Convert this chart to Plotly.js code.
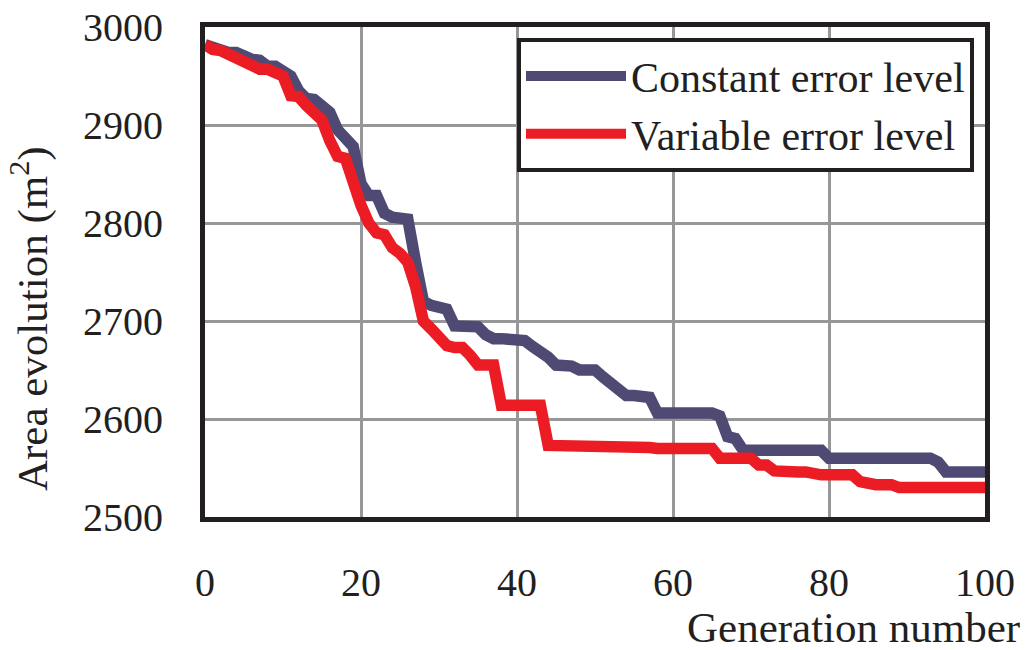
<!DOCTYPE html>
<html>
<head>
<meta charset="utf-8">
<script src="https://cdn.plot.ly/plotly-3.0.1.min.js"></script>
<style>html,body{margin:0;padding:0;background:#fff;}#chart{width:1030px;height:650px;}</style>
</head>
<body>
<div id="chart"></div>
<script>
const generations = Array.from({length: 101}, (_, i) => i);

const constantError = [
  2982, 2979, 2975, 2974, 2974, 2970, 2967, 2966, 2960, 2960,
  2955, 2950, 2935, 2927, 2926, 2920, 2913, 2895, 2885, 2878,
  2840, 2828, 2828, 2810, 2806, 2806, 2804, 2760, 2720, 2716,
  2714, 2712, 2695, 2694, 2694, 2694, 2686, 2682, 2682, 2682,
  2682, 2680, 2674, 2670, 2663, 2655, 2655, 2654, 2650, 2650,
  2650, 2643, 2636, 2630, 2624, 2624, 2624, 2622, 2606, 2606,
  2606, 2606, 2606, 2606, 2606, 2606, 2603, 2582, 2580, 2568,
  2568, 2568, 2568, 2568, 2568, 2568, 2568, 2568, 2568, 2568,
  2560, 2560, 2560, 2560, 2560, 2560, 2560, 2560, 2560, 2560,
  2560, 2560, 2560, 2560, 2556, 2546, 2546, 2546, 2546, 2546,
  2546
];

const variableError = [
  2982, 2977, 2976, 2972, 2966, 2964, 2960, 2957, 2957, 2955,
  2950, 2930, 2929, 2920, 2914, 2905, 2884, 2868, 2866, 2840,
  2818, 2800, 2790, 2788, 2775, 2769, 2760, 2735, 2700, 2692,
  2685, 2675, 2673, 2673, 2665, 2655, 2655, 2655, 2614, 2614,
  2614, 2614, 2614, 2614, 2573, 2573, 2573, 2573, 2573, 2573,
  2573, 2573, 2573, 2573, 2573, 2573, 2573, 2571, 2570, 2570,
  2570, 2570, 2570, 2570, 2570, 2570, 2560, 2560, 2560, 2560,
  2560, 2553, 2553, 2547, 2546, 2546, 2546, 2546, 2543, 2543,
  2543, 2543, 2543, 2543, 2536, 2533, 2533, 2533, 2533, 2530,
  2530, 2530, 2530, 2530, 2530, 2530, 2530, 2530, 2530, 2530,
  2530
];

const seriesNames = ['Constant error level', 'Variable error level'];
const xTicks = [0, 20, 40, 60, 80, 100];
const yTicks = [2500, 2600, 2700, 2800, 2900, 3000];

const FONT = 'Liberation Serif, Times New Roman, serif';
const INK = '#231F20';

const traces = [
  {x: generations, y: constantError, name: seriesNames[0], mode: 'lines',
   line: {color: '#4F4A74', width: 11.5}},
  {x: generations, y: variableError, name: seriesNames[1], mode: 'lines',
   line: {color: '#EC1C24', width: 11.5}}
];

const layout = {
  width: 1030, height: 650,
  margin: {l: 205, r: 45, t: 27, b: 133},
  paper_bgcolor: '#fff', plot_bgcolor: '#fff',
  font: {family: FONT, size: 40, color: INK},
  showlegend: true,
  legend: {
    x: 0.4, y: 0.977, xanchor: 'left', yanchor: 'top',
    bgcolor: '#fff', bordercolor: INK, borderwidth: 4,
    font: {family: FONT, size: 42, color: INK},
    itemwidth: 100, tracegroupgap: 0
  },
  xaxis: {
    range: [0, 100], tickvals: xTicks, ticktext: xTicks.map(String),
    showgrid: true, gridcolor: '#97979A', gridwidth: 3,
    zeroline: false, showline: true, mirror: true,
    linecolor: INK, linewidth: 5,
    ticks: '', ticklabelstandoff: 26,
    tickfont: {family: FONT, size: 40, color: INK}
  },
  yaxis: {
    range: [2500, 3000], tickvals: yTicks, ticktext: yTicks.map(String),
    showgrid: true, gridcolor: '#97979A', gridwidth: 3,
    zeroline: false, showline: true, mirror: true,
    linecolor: INK, linewidth: 5,
    ticks: '', ticklabelstandoff: 29,
    tickfont: {family: FONT, size: 40, color: INK}
  },
  annotations: [
    {text: 'Generation number', xref: 'paper', yref: 'paper',
     x: 1.047, y: -0.225, xanchor: 'right', yanchor: 'middle',
     showarrow: false, font: {family: FONT, size: 43, color: INK}},
    {text: 'Area evolution (m<sup>2</sup>)', xref: 'paper', yref: 'paper',
     x: -0.225, y: 0.405, xanchor: 'center', yanchor: 'middle', textangle: -90,
     showarrow: false, font: {family: FONT, size: 43, color: INK}}
  ]
};

Plotly.newPlot('chart', traces, layout, {displayModeBar: false, staticPlot: true});
</script>
</body>
</html>
